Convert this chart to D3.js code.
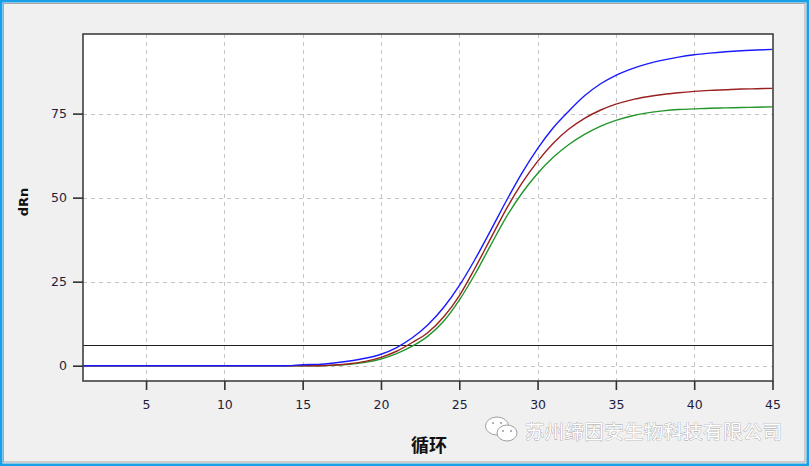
<!DOCTYPE html>
<html>
<head>
<meta charset="utf-8">
<script src="https://cdn.jsdelivr.net/npm/d3@7"></script>
<style>
  html, body { margin: 0; padding: 0; background: #f0f0f0; }
  svg { display: block; }
</style>
</head>
<body>
<svg id="chart" width="809" height="466"></svg>
<script>
// ---- data ----
const cycles = d3.range(1, 46);
const blueValues = [0,0,0,0,0,0,0,0,0,0,0,0,0,0,0.3,0.4,0.8,1.4,2.2,3.4,5.4,8.3,12.2,17.3,23.8,31.6,40.2,49.0,57.3,64.6,70.8,75.8,80.3,83.8,86.4,88.3,89.8,90.9,91.8,92.5,93.0,93.4,93.7,93.9,94.1];
const redValues  = [0,0,0,0,0,0,0,0,0,0,0,0,0,0,0,0,0.2,0.6,1.3,2.5,4.3,6.9,9.9,14.5,20.8,29.0,37.8,46.6,54.3,60.8,66.2,70.4,73.6,76.0,77.8,79.1,80.0,80.7,81.2,81.6,81.9,82.1,82.3,82.4,82.5];
const greenValues= [0,0,0,0,0,0,0,0,0,0,0,0,0,0,0,0,0.1,0.4,1.0,2.0,3.6,5.8,8.8,13.2,19.5,27.2,35.8,44.2,51.3,57.2,62.0,65.8,68.8,71.2,73.0,74.3,75.2,75.8,76.2,76.4,76.6,76.7,76.8,76.9,77.0];
const threshold = 6.2;
const xTicks = [5,10,15,20,25,30,35,40,45];
const yTicks = [0,25,50,75];
const xTitle = "循环";
const yTitle = "dRn";
const watermark = "苏州缔因安生物科技有限公司";

// ---- layout ----
const W = 809, H = 466;
const frame = {left: 83, right: 773, top: 34, bottom: 381};
const svg = d3.select("#chart");

// outer border
svg.append("rect").attr("x",0).attr("y",0).attr("width",W).attr("height",H).attr("fill","#f0f0f0");
svg.append("rect").attr("x",1).attr("y",1).attr("width",W-2).attr("height",H-2)
  .attr("fill","none").attr("stroke","#1aa0e8").attr("stroke-width",3);
svg.append("rect").attr("x",3.5).attr("y",3.5).attr("width",W-7.5).attr("height",H-7.5)
  .attr("fill","none").attr("stroke","#a8a8a8").attr("stroke-width",1);

const x = d3.scaleLinear().domain([1,45]).range([83.4,772.5]);
const y = d3.scaleLinear().domain([0,75]).range([365.7,113.6]);

// plot background
svg.append("rect").attr("x",frame.left).attr("y",frame.top)
  .attr("width",frame.right-frame.left).attr("height",frame.bottom-frame.top).attr("fill","#ffffff");

// grid
const grid = svg.append("g").attr("stroke","#c4c4c4").attr("stroke-width",1).attr("stroke-dasharray","4,4");
xTicks.filter(t => t < 45).forEach(t => {
  grid.append("line").attr("x1",Math.round(x(t))+0.5).attr("x2",Math.round(x(t))+0.5)
    .attr("y1",frame.top).attr("y2",frame.bottom);
});
yTicks.forEach(t => {
  grid.append("line").attr("x1",frame.left).attr("x2",frame.right)
    .attr("y1",Math.round(y(t))+0.5).attr("y2",Math.round(y(t))+0.5);
});

// threshold
svg.append("line").attr("x1",frame.left).attr("x2",frame.right)
  .attr("y1",Math.round(y(threshold))+0.5).attr("y2",Math.round(y(threshold))+0.5)
  .attr("stroke","#202020").attr("stroke-width",1.2);

// curves
const line = d3.line().x((d,i) => x(cycles[i])).y(d => y(d)).curve(d3.curveMonotoneX);
svg.append("clipPath").attr("id","clip").append("rect")
  .attr("x",frame.left).attr("y",frame.top).attr("width",frame.right-frame.left).attr("height",frame.bottom-frame.top);
const series = [
  {values: greenValues, color: "#22962a"},
  {values: redValues, color: "#9a2020"},
  {values: blueValues, color: "#1a1aff"}
];
series.forEach(s => {
  svg.append("path").datum(s.values).attr("d", line)
    .attr("fill","none").attr("stroke",s.color).attr("stroke-width",1.4)
    .attr("clip-path","url(#clip)");
});

// frame
svg.append("rect").attr("x",frame.left).attr("y",frame.top)
  .attr("width",frame.right-frame.left).attr("height",frame.bottom-frame.top)
  .attr("fill","none").attr("stroke","#404040").attr("stroke-width",1.6);

// axes
const xAxis = svg.append("g").attr("transform",`translate(0,${frame.bottom})`)
  .call(d3.axisBottom(x).tickValues(xTicks).tickSize(9).tickPadding(10));
const yAxis = svg.append("g").attr("transform",`translate(${frame.left},0)`)
  .call(d3.axisLeft(y).tickValues(yTicks).tickSize(10).tickPadding(6));
[xAxis, yAxis].forEach(a => {
  a.select(".domain").remove();
  a.selectAll(".tick line").attr("stroke","#303030").attr("stroke-width",1.6);
  a.selectAll(".tick text").attr("fill","#1e1e3c").attr("font-family","'DejaVu Sans', sans-serif").attr("font-size",12.5);
});

// titles
svg.append("text").attr("x",429).attr("y",452).attr("text-anchor","middle")
  .attr("font-family","'Noto Sans CJK SC', sans-serif").attr("font-weight","bold").attr("font-size",18)
  .attr("fill","#111").text(xTitle);
svg.append("text").attr("transform","translate(28,202) rotate(-90)").attr("text-anchor","middle")
  .attr("font-family","'DejaVu Sans', sans-serif").attr("font-weight","bold").attr("font-size",13)
  .attr("fill","#111").text(yTitle);

// watermark icon
const icon = svg.append("g").attr("fill","#ffffff").attr("stroke","#a0a0a0").attr("stroke-width",1);
icon.append("ellipse").attr("cx",497).attr("cy",426).attr("rx",11.5).attr("ry",9);
icon.append("ellipse").attr("cx",507).attr("cy",433).attr("rx",10).attr("ry",8);
[[493,423],[501,423],[503,431],[511,431]].forEach(p => {
  svg.append("circle").attr("cx",p[0]).attr("cy",p[1]).attr("r",1.1).attr("fill","#a0a0a0");
});
svg.append("text").attr("x",525).attr("y",438.5)
  .attr("font-family","'Noto Sans CJK SC', sans-serif").attr("font-size",19.5)
  .attr("fill","#ffffff").attr("stroke","#9a9a9a").attr("stroke-width",0.7)
  .attr("paint-order","stroke").attr("textLength",257).text(watermark);
</script>
</body>
</html>
